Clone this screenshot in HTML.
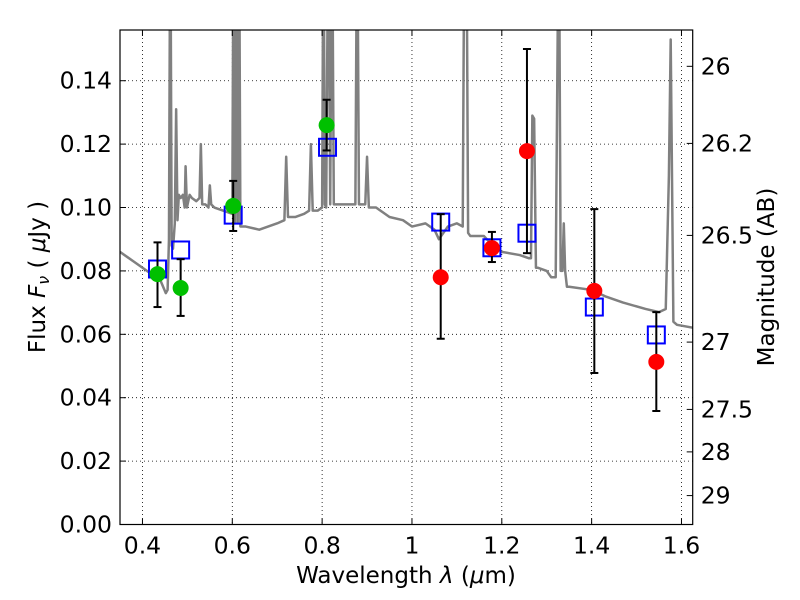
<!DOCTYPE html>
<html><head><meta charset="utf-8"><style>
body{margin:0;background:#fff}
svg{display:block;font-family:"DejaVu Sans","Liberation Sans",sans-serif}
</style></head><body>
<svg id="chart" width="800" height="600" viewBox="0 0 800 600" xmlns="http://www.w3.org/2000/svg">
<defs><clipPath id="clip"><rect x="120" y="30" width="572.7" height="494.5"/></clipPath></defs>
<rect width="800" height="600" fill="#fff"/>
<g id="grid"></g>
<g id="plot" clip-path="url(#clip)"></g>
<g id="axes"></g>
<text x="406" y="583" font-size="23" text-anchor="middle">Wavelength  <tspan font-style="italic">λ</tspan> (<tspan font-style="italic">μ</tspan>m)</text>
<text transform="translate(45,277) rotate(-90)" font-size="23" text-anchor="middle">Flux  <tspan font-style="italic">F<tspan font-size="16" dy="4">ν</tspan></tspan><tspan dy="-4">  (  </tspan><tspan font-style="italic">μ</tspan>Jy )</text>
<text transform="translate(774,277) rotate(-90)" font-size="23" text-anchor="middle">Magnitude (AB)</text>
</svg>
<script>
const xTicks=[0.4,0.6,0.8,1.0,1.2,1.4,1.6];
const xTickLabels=["0.4","0.6","0.8","1","1.2","1.4","1.6"];
const yTicks=[0,0.02,0.04,0.06,0.08,0.10,0.12,0.14];
const yTickLabels=["0.00","0.02","0.04","0.06","0.08","0.10","0.12","0.14"];
const magTicks=[26,26.2,26.5,27,27.5,28,29];
const magTickLabels=["26","26.2","26.5","27","27.5","28","29"];
const specWl=[0.35,0.38,0.41,0.44,0.452,0.456,0.459,0.462,0.465,0.468,0.472,0.475,0.478,0.481,0.485,0.49,0.494,0.496,0.499,0.505,0.51,0.52,0.527,0.53,0.533,0.54,0.547,0.55,0.553,0.56,0.58,0.6,0.603,0.606,0.609,0.612,0.615,0.618,0.63,0.66,0.7,0.716,0.72,0.724,0.74,0.76,0.771,0.775,0.779,0.79,0.8,0.803,0.806,0.809,0.814,0.818,0.822,0.826,0.83,0.85,0.874,0.878,0.882,0.89,0.896,0.9,0.904,0.92,0.95,0.98,1.0,1.03,1.05,1.06,1.08,1.1,1.113,1.117,1.121,1.125,1.13,1.16,1.18,1.2,1.24,1.26,1.265,1.268,1.272,1.276,1.28,1.3,1.31,1.32,1.327,1.331,1.335,1.338,1.341,1.345,1.35,1.4,1.43,1.47,1.52,1.55,1.565,1.572,1.576,1.582,1.59,1.628];
const specFlux=[0.086,0.083,0.080,0.077,0.073,0.074,0.090,0.20,0.088,0.087,0.095,0.131,0.096,0.104,0.103,0.104,0.100,0.113,0.100,0.104,0.103,0.102,0.103,0.120,0.101,0.101,0.100,0.107,0.101,0.100,0.099,0.098,0.20,0.095,0.20,0.095,0.20,0.094,0.094,0.093,0.095,0.096,0.116,0.097,0.097,0.098,0.099,0.120,0.099,0.099,0.100,0.20,0.101,0.100,0.20,0.101,0.20,0.101,0.101,0.101,0.101,0.20,0.101,0.101,0.101,0.116,0.100,0.100,0.097,0.096,0.094,0.095,0.093,0.090,0.094,0.095,0.094,0.20,0.20,0.092,0.091,0.091,0.088,0.086,0.085,0.084,0.084,0.129,0.128,0.081,0.081,0.080,0.078,0.078,0.20,0.080,0.080,0.095,0.080,0.075,0.075,0.074,0.072,0.070,0.068,0.067,0.068,0.110,0.153,0.064,0.063,0.062];
const greenWl=[0.4335,0.485,0.602,0.81];
const greenFlux=[0.079,0.0746,0.1005,0.126];
const greenErrHi=[0.089,0.0837,0.1084,0.134];
const greenErrLo=[0.0686,0.0658,0.0926,0.118];
const redWl=[1.064,1.178,1.256,1.406,1.544];
const redFlux=[0.078,0.0872,0.1178,0.0737,0.0513];
const redErrHi=[0.0979,0.0923,0.150,0.0995,0.067];
const redErrLo=[0.0586,0.0828,0.0856,0.0478,0.0358];
const modelWl=[0.4335,0.485,0.602,0.812,1.064,1.178,1.256,1.406,1.544];
const modelFlux=[0.0806,0.0866,0.0976,0.119,0.0954,0.0873,0.0919,0.0686,0.0598];

const X0=120,X1=692.7,Y0=524.5,Y1=30,xmin=0.35,xmax=1.625,ymax=0.156;
const sx=v=>X0+(v-xmin)/(xmax-xmin)*(X1-X0);
const sy=v=>Y0-v/ymax*(Y0-Y1);
const smag=m=>sy(Math.pow(10,(23.9-m)/2.5));
const NS="http://www.w3.org/2000/svg";
function mk(tag,attrs,parent){const e=document.createElementNS(NS,tag);for(const k in attrs)e.setAttribute(k,attrs[k]);parent.appendChild(e);return e;}
const grid=document.getElementById('grid'),plot=document.getElementById('plot'),axes=document.getElementById('axes');
const FS=23.5;
xTicks.forEach((t,i)=>{
  const l=mk('line',{x1:sx(t),x2:sx(t),y1:Y1,y2:Y0,stroke:'#000','stroke-width':0.8,'stroke-dasharray':'1,3'},grid);
  
  
  mk('line',{x1:sx(t),x2:sx(t),y1:Y0,y2:Y0-6,stroke:'#000'},axes);
  mk('line',{x1:sx(t),x2:sx(t),y1:Y1,y2:Y1+6,stroke:'#000'},axes);
  const tx=mk('text',{x:sx(t),y:Y0+29,'font-size':FS,'text-anchor':'middle'},axes);
  tx.textContent=xTickLabels[i];
  
  
});
yTicks.forEach((t,i)=>{
  if(t>0){const l=mk('line',{x1:X0,x2:X1,y1:sy(t),y2:sy(t),stroke:'#000','stroke-width':0.8,'stroke-dasharray':'1,3'},grid);
  
  }
  mk('line',{x1:X0,x2:X0+6,y1:sy(t),y2:sy(t),stroke:'#000'},axes);
  const tx=mk('text',{x:X0-8,y:sy(t)+8,'font-size':FS,'text-anchor':'end'},axes);
  tx.textContent=yTickLabels[i];
  
  
});
magTicks.forEach((m,i)=>{
  mk('line',{x1:X1,x2:X1-6,y1:smag(m),y2:smag(m),stroke:'#000'},axes);
  const tx=mk('text',{x:X1+8,y:smag(m)+8,'font-size':FS},axes);
  tx.textContent=magTickLabels[i];
  
  
});
const fr=mk('rect',{x:X0,y:Y1,width:X1-X0,height:Y0-Y1,fill:'none',stroke:'#000','stroke-width':1.2},axes);


const sp=mk('polyline',{points:specWl.map((w,i)=>sx(w)+','+sy(specFlux[i])).join(' '),fill:'none',stroke:'#808080','stroke-width':2.5,'stroke-linejoin':'round'},plot);


function errbar(w,lo,hi){
  const g=mk('g',{stroke:'#000','stroke-width':2},plot);
  
  
  mk('line',{x1:sx(w),x2:sx(w),y1:sy(lo),y2:sy(hi)},g);
  mk('line',{x1:sx(w)-4,x2:sx(w)+4,y1:sy(lo),y2:sy(lo)},g);
  mk('line',{x1:sx(w)-4,x2:sx(w)+4,y1:sy(hi),y2:sy(hi)},g);
}
modelWl.forEach((w,i)=>{
  const r=mk('rect',{x:sx(w)-8.5,y:sy(modelFlux[i])-8.5,width:17,height:17,fill:'none',stroke:'#0000ff','stroke-width':2},plot);
  
  
});
greenWl.forEach((w,i)=>{
  errbar(w,greenErrLo[i],greenErrHi[i]);
  const c=mk('circle',{cx:sx(w),cy:sy(greenFlux[i]),r:8,fill:'#00c000'},plot);
  
  
});
redWl.forEach((w,i)=>{
  errbar(w,redErrLo[i],redErrHi[i]);
  const c=mk('circle',{cx:sx(w),cy:sy(redFlux[i]),r:8,fill:'#ff0000'},plot);
  
  
});
</script>
</body></html>
